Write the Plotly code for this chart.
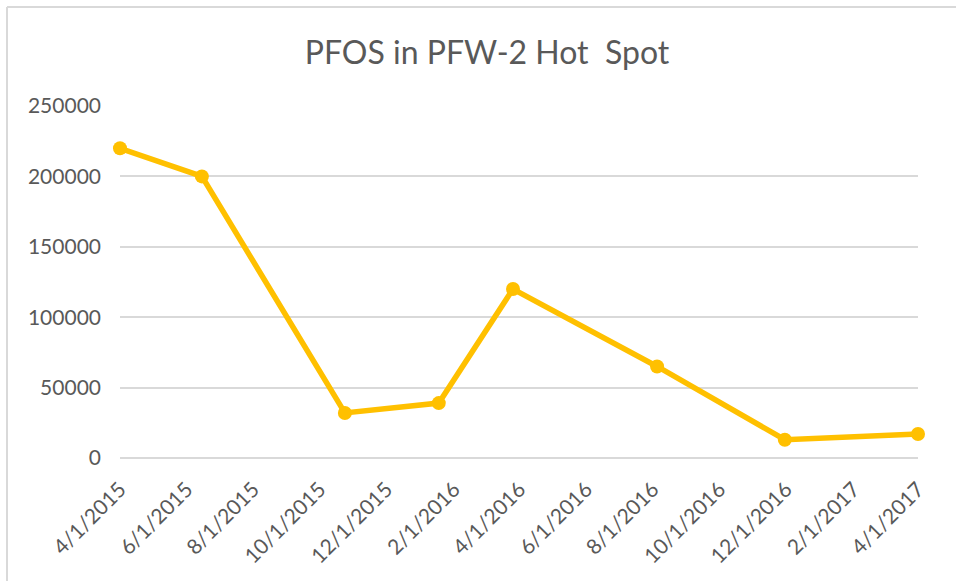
import plotly.graph_objects as go

dates = ["2015-04-01", "2015-06-15", "2015-10-24", "2016-01-18",
         "2016-03-26", "2016-08-05", "2016-11-30", "2017-04-01"]
pfos = [220000, 200000, 32000, 39000, 120000, 65000, 13000, 17000]

title_text = "PFOS in PFW-2 Hot&nbsp; Spot"
y_ticks = [0, 50000, 100000, 150000, 200000, 250000]

W, H = 956, 581
L, R, T, B = 120, 38, 106, 123
pw, ph = W - L - R, H - T - B

def px(x):
    return (x - L) / pw

def py(y):
    return (H - B - y) / ph

fig = go.Figure()
fig.add_trace(go.Scatter(
    x=dates, y=pfos, mode="lines+markers",
    line=dict(color="#FFC000", width=5.5),
    marker=dict(color="#FFC000", size=14),
    cliponaxis=False,
    showlegend=False,
))

grey = "#d9d9d9"
fig.update_layout(
    width=W, height=H,
    margin=dict(l=L, r=R, t=T, b=B),
    paper_bgcolor="white", plot_bgcolor="white",
    font=dict(family="Lato", color="#595959", size=21),
    title=dict(text=title_text, x=487 / W, xanchor="center", y=1 - 53 / H, yanchor="middle",
               font=dict(family="Lato", size=32, color="#595959")),
    xaxis=dict(
        type="date", range=["2015-04-01", "2017-04-01"],
        tick0="2015-04-01", dtick="M2", tickformat="%-m/%-d/%Y",
        tickangle=-45, showgrid=False, zeroline=False, showline=False,
        ticks="", ticklabelstandoff=14,
        tickfont=dict(size=21, color="#595959"),
    ),
    yaxis=dict(
        range=[0, 250000], tickvals=y_ticks, ticktext=[str(v) for v in y_ticks],
        showgrid=True, gridcolor=grey, gridwidth=2,
        zeroline=True, zerolinecolor=grey, zerolinewidth=2,
        showline=False, ticks="", ticklabelstandoff=18,
        tickfont=dict(size=21, color="#595959"),
    ),
    shapes=[
        dict(type="line", xref="paper", yref="paper", x0=px(7), x1=px(W), y0=py(7), y1=py(7),
             line=dict(color=grey, width=2), layer="below"),
        dict(type="line", xref="paper", yref="paper", x0=px(7), x1=px(7), y0=py(7), y1=py(H),
             line=dict(color=grey, width=2), layer="below"),
    ],
)

fig.write_html("out.html", config={"displayModeBar": False},
               post_script="document.body.style.margin='0';")
